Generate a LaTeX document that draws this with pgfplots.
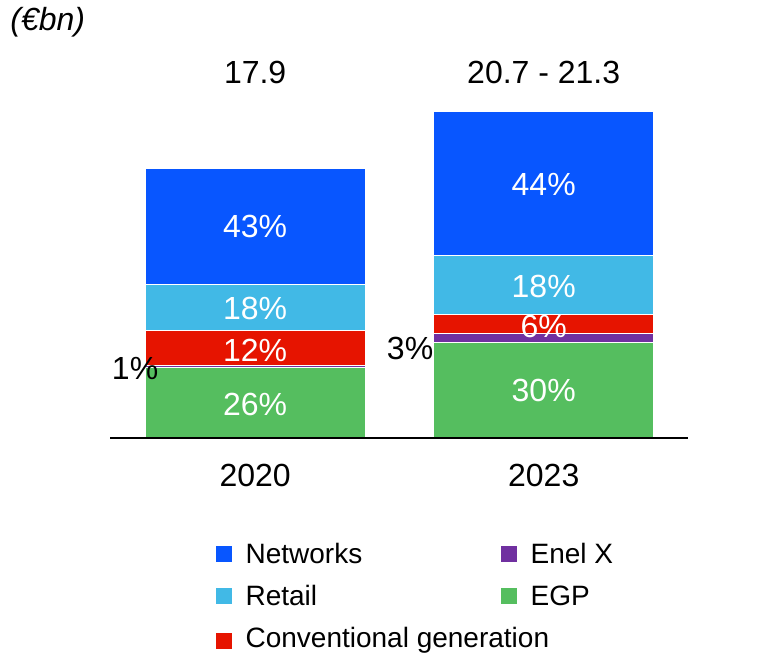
\documentclass[border=0pt]{standalone}
\usepackage{pgfplots}
\pgfplotsset{compat=1.18}
\usepackage{fontspec}
\setmainfont{Liberation Sans}

\definecolor{netblue}{RGB}{8,86,255}
\definecolor{retail}{RGB}{65,185,230}
\definecolor{conv}{RGB}{230,20,0}
\definecolor{enelx}{RGB}{112,48,160}
\definecolor{egp}{RGB}{85,190,95}

\newcommand{\legsq}[1]{\addlegendimage{legend image code/.code={\fill[#1] (0pt,-3.75pt) rectangle (7.5pt,3.75pt); \path (14.5pt,0pt);}}}

\begin{document}
\begin{tikzpicture}[font=\fontsize{16}{19}\selectfont]
\begin{axis}[
    at={(0,0)}, anchor=south west,
    scale only axis,
    width=289pt, height=181pt,
    ybar stacked,
    bar width=0.763,
    xmin=-0.503, xmax=1.5,
    ymin=0, ymax=24,
    clip=false,
    axis on top,
    axis y line=none,
    axis x line=bottom,
    x axis line style={-, line width=0.9pt},
    xtick={0,1},
    xticklabels={2020,2023},
    major tick length=0pt,
    xticklabel style={yshift=-9.5pt},
    every axis plot/.append style={draw=white, line width=0.5pt},
    legend columns=2,
    legend style={draw=none, fill=none, inner sep=0pt,
        font=\fontsize{14}{17}\selectfont,
        at={(0.182,-0.29)}, anchor=north west,
        column sep=0pt, row sep=10.75pt,
        /tikz/every node/.style={anchor=west}},
    legend cell align=left,
]
% EGP, Enel X, Conventional, Retail, Networks (bottom to top)
\addplot[fill=egp, forget plot] coordinates {(0,4.65) (1,6.35)};
\addplot[fill=enelx, forget plot] coordinates {(0,0.15) (1,0.55)};
\addplot[fill=conv, forget plot] coordinates {(0,2.3) (1,1.3)};
\addplot[fill=retail, forget plot] coordinates {(0,3.1) (1,3.9)};
\addplot[fill=netblue, forget plot] coordinates {(0,7.7) (1,9.55)};

\legsq{netblue}\addlegendentry{\makebox[127.5pt][l]{Networks}}
\legsq{enelx}\addlegendentry{Enel X}
\legsq{retail}\addlegendentry{\makebox[127.5pt][l]{Retail}}
\legsq{egp}\addlegendentry{EGP}
\legsq{conv}\addlegendentry{\makebox[127.5pt][l]{Conventional generation}}

% label positions
\coordinate (a1) at (axis cs:0,14.04);
\coordinate (a2) at (axis cs:0,8.61);
\coordinate (a3) at (axis cs:0,5.83);
\coordinate (a4) at (axis cs:0,2.25);
\coordinate (a5) at (axis cs:-0.416,4.64);
\coordinate (b1) at (axis cs:1,16.8);
\coordinate (b2) at (axis cs:1,10.07);
\coordinate (b3) at (axis cs:1,7.42);
\coordinate (b4) at (axis cs:1,3.18);
\coordinate (b5) at (axis cs:0.537,5.96);
\coordinate (t1) at (axis cs:0,24.24);
\coordinate (t2) at (axis cs:1,24.24);
\end{axis}
% segment labels
\node[white] at (a1) {43\%};
\node[white] at (a2) {18\%};
\node[white] at (a3) {12\%};
\node[white] at (a4) {26\%};
\node[black] at (a5) {1\%};
\node[white] at (b1) {44\%};
\node[white] at (b2) {18\%};
\node[white] at (b3) {6\%};
\node[white] at (b4) {30\%};
\node[black] at (b5) {3\%};
% totals
\node at (t1) {17.9};
\node at (t2) {20.7 - 21.3};
\node[anchor=west, inner sep=0pt] at (-50pt,208pt) {\itshape (€bn)};
\path[use as bounding box] (-55pt,-106.5pt) rectangle (334.5pt,219pt);
\end{tikzpicture}
\end{document}
